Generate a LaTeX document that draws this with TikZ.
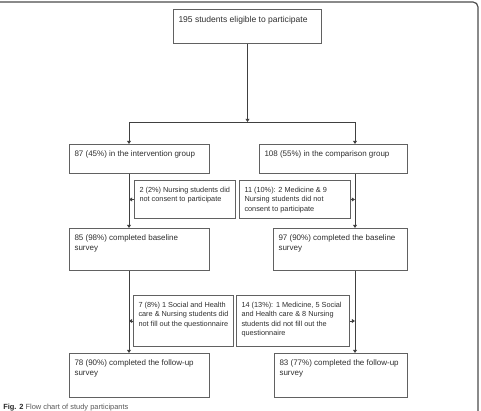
\documentclass[tikz,border=0pt]{standalone}
\usepackage{fontspec}
\setmainfont{Liberation Sans}
\usetikzlibrary{arrows.meta}
\usepackage{xcolor}

\newlength\pxu
\setlength\pxu{0.75pt}
% text set at the top left of a box of given inner width and height (in px)
\newcommand{\boxtext}[3]{\parbox[t][#2\pxu][t]{#1\pxu}{\raggedright\vspace{4pt}\strut #3}}

\colorlet{boxgray}{black!62}
\colorlet{linegray}{black!75}
\colorlet{txtgray}{black!82}

\begin{document}
\begin{tikzpicture}[x=0.75pt,y=-0.75pt,>={Triangle[length=2.4pt,width=3pt]},
  flowbox/.style={draw=boxgray,line width=0.75pt,anchor=north west,inner xsep=3.75pt,inner ysep=0pt,text=txtgray,font=\fontsize{6}{7.5}\selectfont},
  notebox/.style={flowbox,font=\fontsize{5.5}{7}\selectfont},
  link/.style={draw=linegray,line width=0.6pt}]
\useasboundingbox (0,0) rectangle (481,410);
\draw[black!70,line width=0.9pt,rounded corners=5\pxu] (0,2) -- (478,2) -- (478,412);

\node[flowbox,font=\fontsize{6.4}{8}\selectfont] (eligible) at (173,9) {\boxtext{138}{34}{195 students eligible to participate}};
\node[flowbox] (interv) at (69,144) {\boxtext{130}{29}{87 (45\%) in the intervention group}};
\node[flowbox] (compar) at (259,144) {\boxtext{138}{29}{108 (55\%) in the comparison group}};
\node[notebox] (noconsA) at (134,180) {\boxtext{91}{38}{2 (2\%) Nursing students did\\not consent to participate}};
\node[notebox] (noconsB) at (239,180) {\boxtext{101}{38}{11 (10\%): 2 Medicine \& 9\\Nursing students did not\\consent to participate}};
\node[flowbox] (baseA) at (69,228) {\boxtext{130}{42}{85 (98\%) completed baseline\\survey}};
\node[flowbox] (baseB) at (273,228) {\boxtext{124}{42}{97 (90\%) completed the baseline\\survey}};
\node[notebox] (nofillA) at (133,295) {\boxtext{90}{51}{7 (8\%) 1 Social and Health\\care \& Nursing students did\\not fill out the questionnaire}};
\node[notebox] (nofillB) at (236,295) {\boxtext{103}{51}{14 (13\%): 1 Medicine, 5 Social\\and Health care \& 8 Nursing\\students did not fill out the\\questionnaire}};
\node[flowbox] (followA) at (69,353) {\boxtext{130}{44}{78 (90\%) completed the follow-up\\survey}};
\node[flowbox] (followB) at (274,353) {\boxtext{123}{44}{83 (77\%) completed the follow-up\\survey}};

% split into the two groups
\coordinate (splitL) at (129,122);
\coordinate (splitR) at (355,122);
\draw[link,->] (eligible.south) -- (eligible.south |- splitL);
\draw[link] (splitL) -- (splitR);
\draw[link,->] (splitL) -- (splitL |- interv.north);
\draw[link,->] (splitR) -- (splitR |- compar.north);

% left column
\draw[link,->] (interv.south -| splitL) -- (splitL |- baseA.north);
\draw[link,->] (noconsA.west) -- (noconsA.west -| splitL);
\draw[link,->] (baseA.south -| splitL) -- (splitL |- followA.north);
\draw[link,->] (nofillA.west) -- (nofillA.west -| splitL);

% right column
\draw[link,->] (compar.south -| splitR) -- (splitR |- baseB.north);
\draw[link,->] (noconsB.east) -- (noconsB.east -| splitR);
\draw[link,->] (baseB.south -| splitR) -- (splitR |- followB.north);
\draw[link,->] (nofillB.east) -- (nofillB.east -| splitR);

\node[anchor=base west,inner sep=0pt,font=\fontsize{5.6}{6}\selectfont,text=black!65] (caption) at (3,409) {\textcolor{black!85}{\textbf{Fig. 2}} Flow chart of study participants};
\end{tikzpicture}
\end{document}
